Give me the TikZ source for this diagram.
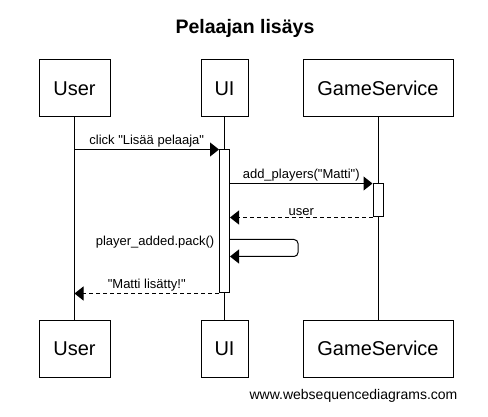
\documentclass[tikz,border=0pt]{standalone}
\usepackage{fontspec}
\setmainfont{Liberation Sans}
\usetikzlibrary{arrows.meta, positioning, calc}
\tikzset{
  actor/.style={draw, line width=1pt, minimum height=57pt, font=\fontsize{20}{24}\selectfont},
  actbar/.style={draw, fill=white, line width=1pt, minimum width=10pt, inner sep=0pt},
  msg/.style={line width=1pt, -{Triangle[length=9pt,width=14pt]}},
  reply/.style={msg, dash pattern=on 4pt off 3pt},
  lbl/.style={font=\fontsize{13}{15}\selectfont, inner sep=1.5pt}
}
\newcommand{\dq}{\textquotedbl}
\begin{document}
\begin{tikzpicture}[x=1pt,y=-1pt]
\useasboundingbox (0,0) rectangle (488,417);
\node[font=\fontsize{19.5}{23}\selectfont\bfseries] (title) at (245,28) {Pelaajan lisäys};
\node[actor, minimum width=71pt] (userT) at (74.5,88.5) {User};
\node[actor, minimum width=47pt] (uiT) at (224.5,88.5) {UI};
\node[actor, minimum width=150pt] (gsT) at (378,88.5) {GameService};
\node[actor, minimum width=71pt] (userB) at (74.5,348.5) {User};
\node[actor, minimum width=47pt] (uiB) at (224.5,348.5) {UI};
\node[actor, minimum width=150pt] (gsB) at (378,348.5) {GameService};
\draw[line width=1pt] (userT.south) -- (userB.north);
\draw[line width=1pt] (uiT.south) -- (uiB.north);
\draw[line width=1pt] (gsT.south) -- (gsB.north);
\node[actbar, minimum height=143pt] (uiAct) at (224.5,221.5) {};
\node[actbar, minimum height=33pt] (gsAct) at (378,200.5) {};
\draw[msg] (userT.south |- uiAct.north) -- node[lbl, above]{click \dq Lisää pelaaja\dq} (uiAct.north west);
\draw[msg] (uiAct.east |- gsAct.north) -- node[lbl, above]{add\_players(\dq Matti\dq)} (gsAct.north west);
\draw[reply] (gsAct.south west) -- node[lbl, above]{user} (uiAct.east |- gsAct.south);
\coordinate (selfA) at ($(uiAct.north east)+(0,90)$);
\draw[msg, rounded corners=4pt] (selfA) -- ++(68,0) -- ++(0,17) -- ++(-68,0);
\node[lbl, anchor=east] (selfLbl) at ($(uiAct.west |- selfA)+(-3,3)$) {player\_added.pack()};
\draw[reply] (uiAct.south west) -- node[lbl, above]{\dq Matti lisätty!\dq} (userT.south |- uiAct.south);
\node[font=\fontsize{14}{16}\selectfont] (wsd) at (353.5,396) {www.websequencediagrams.com};
\end{tikzpicture}
\end{document}
